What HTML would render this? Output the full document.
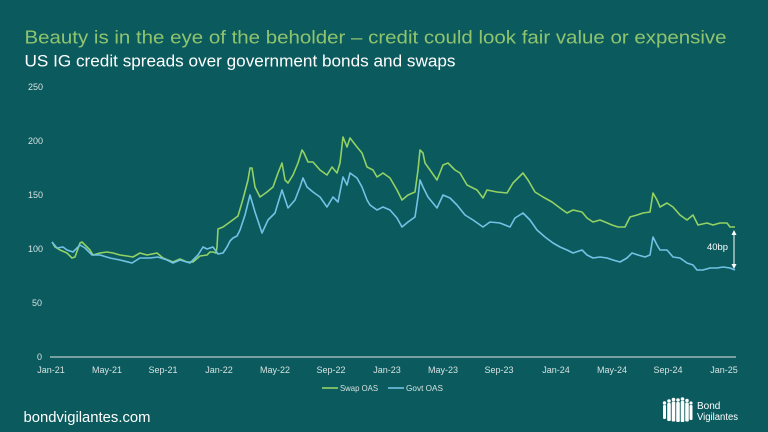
<!DOCTYPE html>
<html><head><meta charset="utf-8"><style>
html,body{margin:0;padding:0;background:#0b5a5d;}
svg{display:block;}
text{font-family:"Liberation Sans",sans-serif;}
</style></head><body>
<svg width="768" height="432" viewBox="0 0 768 432" xmlns="http://www.w3.org/2000/svg">
<rect width="768" height="432" fill="#0b5a5d"/>
<text x="24.5" y="43.5" font-size="18.5" fill="#8fc46f" textLength="702" lengthAdjust="spacingAndGlyphs">Beauty is in the eye of the beholder – credit could look fair value or expensive</text>
<text x="24.5" y="66.5" font-size="16.5" fill="#ffffff" textLength="431" lengthAdjust="spacingAndGlyphs">US IG credit spreads over government bonds and swaps</text>

<g font-size="9" fill="#d6e2e2" text-anchor="end">
<text x="43" y="90">250</text>
<text x="43" y="144">200</text>
<text x="43" y="198">150</text>
<text x="43" y="252">100</text>
<text x="42" y="306">50</text>
<text x="42" y="360">0</text>
</g>
<line x1="50" y1="357" x2="736" y2="357" stroke="#9cb8b8" stroke-width="1.5"/>
<g font-size="9" fill="#d6e2e2" text-anchor="middle">
<text x="51" y="373">Jan-21</text>
<text x="107" y="373">May-21</text>
<text x="163" y="373">Sep-21</text>
<text x="219" y="373">Jan-22</text>
<text x="275" y="373">May-22</text>
<text x="331" y="373">Sep-22</text>
<text x="387" y="373">Jan-23</text>
<text x="443" y="373">May-23</text>
<text x="499" y="373">Sep-23</text>
<text x="556" y="373">Jan-24</text>
<text x="612" y="373">May-24</text>
<text x="668" y="373">Sep-24</text>
<text x="724" y="373">Jan-25</text>
</g>

<polyline fill="none" stroke="#92d265" stroke-width="1.6" stroke-linejoin="round" points="52,242 55,247 60,250 67,253 72,258 75,257 80,243 82,242 85,245 90,250 93,255 100,253 107,252 113,253 120,255 127,256 133,257 140,253 147,255 157,253 163,258 173,262 180,259 187,262 193,262 200,256 207,255 210,252 213,252 216,253 217,247 218,229 223,227 230,222 238,216 243,199 248,180 250,168 252,168 255,187 260,197 267,192 273,187 278,173 282,163 285,180 288,183 293,175 298,163 302,150 304,153 308,162 313,162 320,170 327,175 332,167 337,173 340,163 343,137 347,147 350,138 357,147 362,153 367,167 373,170 377,177 383,173 390,178 397,190 402,200 408,195 415,192 418,170 420,150 423,153 425,163 430,170 437,180 443,165 448,163 455,170 460,173 467,185 477,190 483,198 487,190 497,192 507,193 513,183 523,173 528,180 535,192 543,197 552,202 560,208 567,213 573,210 582,212 587,218 593,222 600,220 605,222 612,225 618,227 625,227 630,217 637,215 643,213 650,212 653,193 657,200 660,207 667,203 673,207 680,215 687,220 693,215 698,225 707,223 713,225 720,223 727,223 730,227 735,227"/>

<polyline fill="none" stroke="#72c2e6" stroke-width="1.6" stroke-linejoin="round" points="52,242 57,248 63,247 67,250 73,252 80,245 85,248 92,255 100,255 110,258 120,260 132,263 140,258 150,258 158,257 167,260 173,263 180,260 190,263 198,255 203,247 207,249 210,248 213,247 218,254 223,253 227,247 230,241 233,238 237,236 240,230 245,215 250,195 255,212 262,233 268,220 275,213 282,190 288,208 295,200 300,187 303,178 307,187 313,192 320,197 327,207 333,197 338,202 343,177 347,185 350,173 357,178 362,187 367,200 370,205 377,210 383,207 390,210 397,218 402,227 408,222 415,217 418,197 420,180 423,187 428,197 437,208 443,195 450,198 457,205 465,215 473,220 483,227 490,222 500,223 510,227 515,218 523,213 530,220 537,230 545,237 553,243 560,247 567,250 573,253 582,250 587,255 593,258 600,257 607,258 613,260 620,262 627,258 632,253 638,255 645,257 650,255 653,237 657,245 660,250 667,250 673,257 680,258 687,263 693,265 697,270 703,270 710,268 717,268 723,267 730,268 735,270"/>

<!-- 40bp annotation -->
<line x1="734" y1="234" x2="734" y2="265" stroke="#ffffff" stroke-width="1"/>
<polygon points="734,230 731.5,235 736.5,235" fill="#ffffff"/>
<polygon points="734,269 731.5,264 736.5,264" fill="#ffffff"/>
<text x="707" y="250" font-size="9.5" fill="#ffffff" textLength="21" lengthAdjust="spacingAndGlyphs">40bp</text>

<!-- legend -->
<line x1="322" y1="388" x2="338" y2="388" stroke="#92d265" stroke-width="1.6"/>
<text x="340" y="391" font-size="8.5" fill="#d6e2e2" textLength="38" lengthAdjust="spacingAndGlyphs">Swap OAS</text>
<line x1="388" y1="388" x2="404" y2="388" stroke="#72c2e6" stroke-width="1.6"/>
<text x="406" y="391" font-size="8.5" fill="#d6e2e2" textLength="37" lengthAdjust="spacingAndGlyphs">Govt OAS</text>

<!-- footer -->
<text x="23.5" y="422" font-size="14.5" fill="#ffffff" textLength="127" lengthAdjust="spacingAndGlyphs">bondvigilantes.com</text>

<!-- logo -->
<g fill="#ffffff">
<circle cx="664.5" cy="403" r="1.7"/><rect x="663" y="405" width="3" height="14" rx="1"/>
<circle cx="669" cy="401" r="1.8"/><rect x="667.2" y="403" width="3.6" height="18" rx="1"/>
<circle cx="673.5" cy="399.5" r="1.8"/><rect x="671.7" y="401.5" width="3.6" height="20" rx="1"/>
<circle cx="678" cy="400" r="1.8"/><rect x="676.2" y="402" width="3.6" height="20" rx="1"/>
<circle cx="682.5" cy="399" r="1.8"/><rect x="680.7" y="401" width="3.6" height="21" rx="1"/>
<circle cx="687" cy="400.5" r="1.8"/><rect x="685.2" y="402.5" width="3.6" height="19" rx="1"/>
<circle cx="691" cy="403" r="1.6"/><rect x="689.5" y="405" width="3" height="15" rx="1"/>
</g>
<text x="697" y="409" font-size="10" fill="#ffffff">Bond</text>
<text x="697" y="420" font-size="10" fill="#ffffff" textLength="41" lengthAdjust="spacingAndGlyphs">Vigilantes</text>
</svg>
</body></html>
